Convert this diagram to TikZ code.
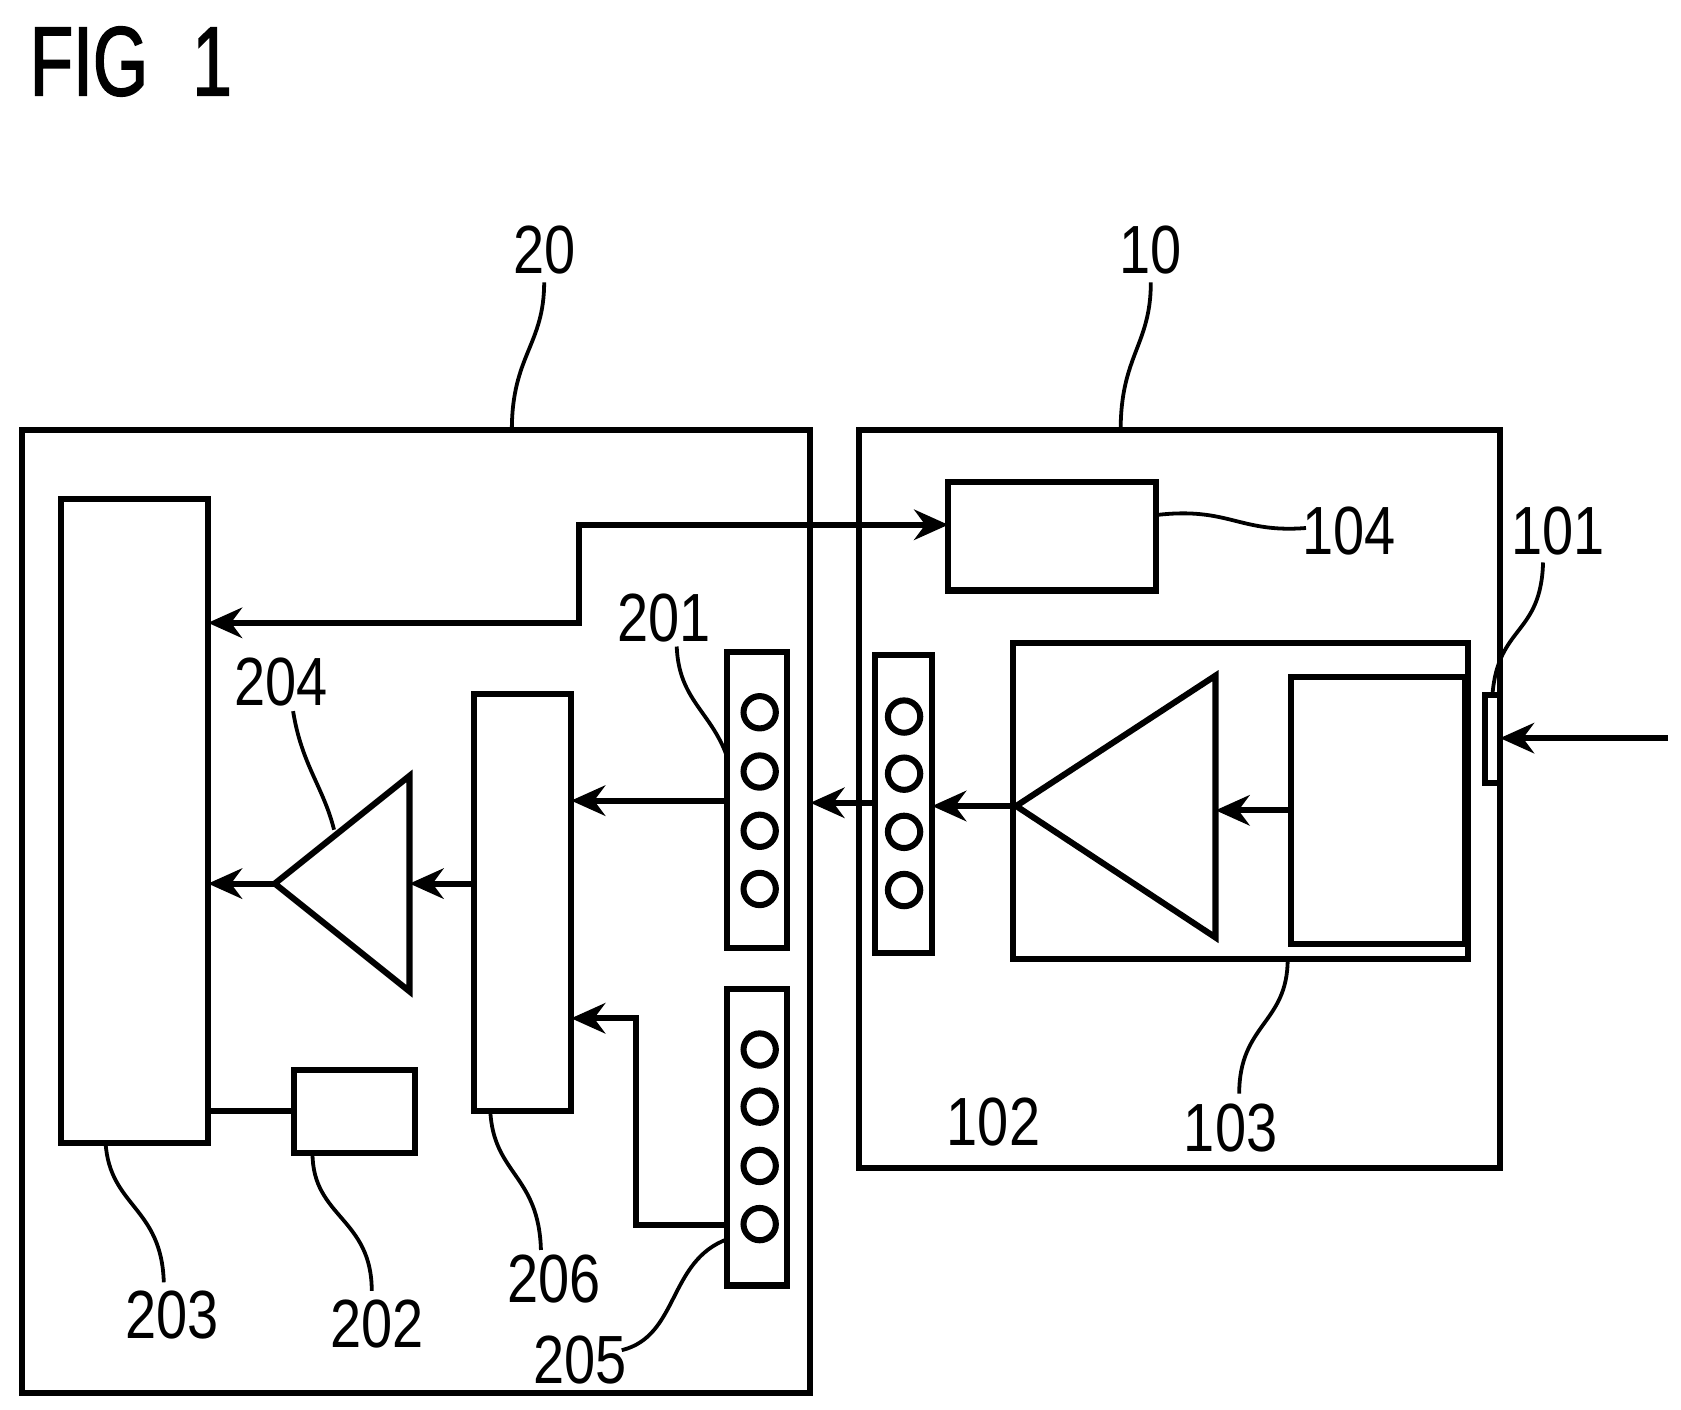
\documentclass[tikz,border=0pt]{standalone}
\usepackage{fontspec}
\setmainfont{Liberation Sans}[FakeStretch=0.82]
\usetikzlibrary{arrows.meta}

\tikzset{
    blk/.style = {draw, line width=1.6pt, inner sep=0pt},
    sig/.style = {draw, line width=1.6pt, -{Stealth[length=9pt,width=8pt]}},
    lead/.style = {draw, line width=1pt},
    num/.style = {font=\fontsize{18}{18}\selectfont, inner sep=0pt},
}

\begin{document}
\begin{tikzpicture}[x=0.01cm, y=-0.01cm]
    \useasboundingbox (0, 0) rectangle (1560, 1307.6);

    \node[anchor=north west, inner sep=0pt, font=\fontsize{26}{26}\selectfont\addfontfeatures{FakeStretch=0.72, FakeBold=1.5}] (fig) at (27, 24) {FIG\hspace{0.45em}1};

    % housings
    \draw[blk] (20, 399) coordinate (u20) rectangle (752, 1293);
    \draw[blk] (797, 399) coordinate (u10) rectangle (1392, 1084);
    \coordinate (top20) at (475, 399);
    \coordinate (top10) at (1040, 399);
    \coordinate (edge20) at (752, 745);

    % unit 10
    \draw[blk] (880, 447) rectangle (1073, 548);
    \coordinate (in104) at (880, 487);
    \draw[blk] (1378, 645) rectangle (1392, 727);
    \coordinate (in101) at (1392, 685);
    \coordinate (src) at (1548, 685);
    \draw[blk] (940, 597) rectangle (1362, 890);
    \draw[blk] (1198, 628) rectangle (1360, 876);
    \draw[blk] (943, 748) coordinate (amp1) -- (1128, 627) -- (1128, 870) -- cycle;
    \coordinate (amp1in) at (1128, 752);
    \coordinate (sens) at (1198, 752);

    \draw[blk] (812, 608) rectangle (865, 884);
    \foreach \y in {665, 718, 772, 826}
        \draw[line width=1.6pt] (839, \y) circle (15);
    \coordinate (con102in) at (865, 748);
    \coordinate (con102out) at (812, 745);

    % unit 20
    \draw[blk] (57, 463) rectangle (193, 1061);
    \coordinate (cpu) at (193, 820);
    \coordinate (cpuA) at (193, 578);
    \coordinate (cpuB) at (193, 1031);
    \draw[blk] (273, 993) rectangle (385, 1070);
    \coordinate (mem) at (273, 1031);
    \draw[blk] (440, 644) rectangle (530, 1031);
    \coordinate (muxA) at (530, 743);
    \coordinate (muxB) at (530, 945);
    \coordinate (mux) at (440, 820);
    \draw[blk] (255, 820) coordinate (amp2) -- (380, 720) -- (380, 920) -- cycle;
    \coordinate (amp2in) at (380, 820);

    \draw[blk] (675, 605) rectangle (730, 880);
    \foreach \y in {661, 716, 771, 825}
        \draw[line width=1.6pt] (705, \y) circle (15);
    \coordinate (con201) at (675, 743);
    \draw[blk] (675, 918) rectangle (730, 1193);
    \foreach \y in {974, 1027, 1082, 1136}
        \draw[line width=1.6pt] (705, \y) circle (15);
    \coordinate (con205) at (675, 1137);

    % signals
    \draw[sig] (src) -- (in101);
    \draw[sig] (sens) -- (amp1in);
    \draw[sig] (amp1) -- (con102in);
    \draw[sig] (con102out) -- (edge20);
    \draw[sig] (con201) -- (muxA);
    \draw[sig] (con205) -| (590, 945) -- (muxB);
    \draw[sig] (mux) -- (amp2in);
    \draw[sig] (amp2) -- (cpu);
    \draw[line width=1.6pt] (cpuB) -- (mem);
    \draw[line width=1.6pt, {Stealth[length=9pt,width=8pt]}-{Stealth[length=9pt,width=8pt]}]
        (cpuA) -- (537, 578) -- (537, 487) -- (in104);

    % labels
    \node[num] (n20) at (505, 232) {20};
    \node[num] (n10) at (1068, 232) {10};
    \node[num] (n104) at (1252, 493) {104};
    \node[num] (n101) at (1446, 493) {101};
    \node[num] (n103) at (1142, 1047) {103};
    \node[num] (n102) at (922, 1041) {102};
    \node[num] (n201) at (616, 574) {201};
    \node[num] (n204) at (261, 633) {204};
    \node[num] (n206) at (514, 1187) {206};
    \node[num] (n205) at (538, 1262) {205};
    \node[num] (n203) at (160, 1220) {203};
    \node[num] (n202) at (350, 1229) {202};

    \draw[lead] (505, 262) .. controls (505, 320) and (475, 330) .. (top20);
    \draw[lead] (1068, 262) .. controls (1068, 320) and (1040, 330) .. (top10);
    \draw[lead] (1073, 478) .. controls (1140, 470) and (1150, 495) .. (1212, 490);
    \draw[lead] (1432, 522) .. controls (1430, 590) and (1390, 580) .. (1385, 645);
    \draw[lead] (1150, 1015) .. controls (1150, 950) and (1195, 950) .. (1195, 890);
    \draw[lead] (628, 600) .. controls (630, 650) and (660, 660) .. (675, 703);
    \draw[lead] (272, 660) .. controls (280, 710) and (300, 730) .. (310, 770);
    \draw[lead] (502, 1160) .. controls (500, 1090) and (458, 1090) .. (455, 1031);
    \draw[lead] (577, 1253) .. controls (630, 1240) and (620, 1170) .. (675, 1150);
    \draw[lead] (152, 1190) .. controls (150, 1120) and (102, 1120) .. (98, 1061);
    \draw[lead] (345, 1198) .. controls (345, 1130) and (290, 1130) .. (290, 1070);
\end{tikzpicture}
\end{document}
